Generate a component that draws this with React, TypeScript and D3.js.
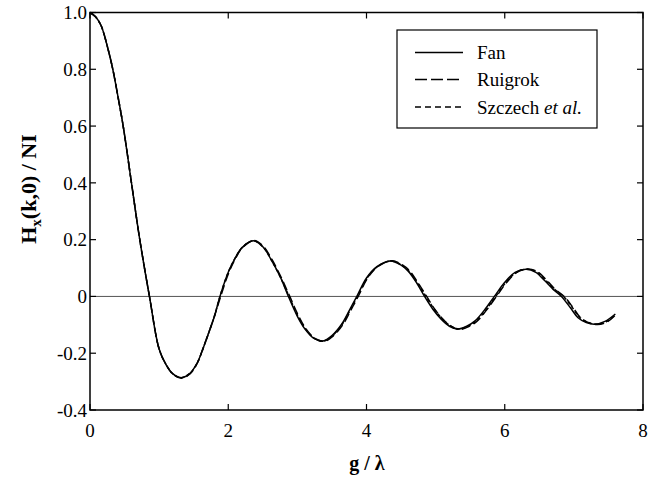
import React from "react";
import * as d3 from "d3";

// Fan (solid)
const fanG = [0, 0.08, 0.16, 0.26, 0.33, 0.4, 0.48, 0.6, 0.72, 0.86, 1.0, 1.1, 1.2, 1.32, 1.45, 1.55, 1.61, 1.7, 1.8, 1.88, 2.0, 2.1, 2.2, 2.36, 2.5, 2.62, 2.75, 2.87, 3.0, 3.11, 3.24, 3.37, 3.5, 3.64, 3.75, 3.86, 4.0, 4.15, 4.35, 4.5, 4.6, 4.72, 4.84, 4.96, 5.08, 5.2, 5.32, 5.45, 5.57, 5.7, 5.85, 6.0, 6.15, 6.31, 6.45, 6.58, 6.7, 6.82, 6.95, 7.06, 7.18, 7.3, 7.45, 7.6];
const fanV = [1.0, 0.985, 0.954, 0.872, 0.8, 0.71, 0.6, 0.4, 0.2, 0.0, -0.185, -0.24, -0.273, -0.286, -0.27, -0.235, -0.2, -0.14, -0.07, 0.0, 0.085, 0.135, 0.172, 0.196, 0.175, 0.13, 0.07, 0.0, -0.07, -0.115, -0.148, -0.157, -0.138, -0.098, -0.05, 0.0, 0.065, 0.105, 0.125, 0.11, 0.09, 0.05, 0.0, -0.045, -0.08, -0.105, -0.115, -0.105, -0.086, -0.05, 0.0, 0.05, 0.085, 0.096, 0.085, 0.055, 0.025, 0.0, -0.04, -0.075, -0.092, -0.098, -0.088, -0.062];
// Ruigrok (long dash)
const ruiG = [0, 0.08, 0.16, 0.26, 0.33, 0.4, 0.48, 0.6, 0.72, 0.86, 1.0, 1.1, 1.2, 1.32, 1.45, 1.55, 1.61, 1.7, 1.8, 1.89, 2.01, 2.11, 2.21, 2.37, 2.51, 2.63, 2.76, 2.89, 3.02, 3.13, 3.26, 3.39, 3.52, 3.66, 3.77, 3.88, 4.02, 4.17, 4.37, 4.52, 4.62, 4.74, 4.87, 4.99, 5.11, 5.23, 5.35, 5.48, 5.6, 5.73, 5.88, 6.03, 6.18, 6.34, 6.48, 6.61, 6.73, 6.86, 6.99, 7.1, 7.22, 7.34, 7.48, 7.6];
const ruiV = [1.0, 0.985, 0.954, 0.872, 0.8, 0.71, 0.6, 0.4, 0.2, 0.0, -0.185, -0.24, -0.274, -0.288, -0.272, -0.236, -0.2, -0.14, -0.07, 0.0, 0.085, 0.136, 0.173, 0.197, 0.176, 0.131, 0.07, 0.0, -0.07, -0.116, -0.149, -0.158, -0.139, -0.099, -0.05, 0.0, 0.066, 0.106, 0.126, 0.111, 0.091, 0.05, 0.0, -0.046, -0.081, -0.106, -0.116, -0.106, -0.087, -0.05, 0.0, 0.05, 0.086, 0.097, 0.086, 0.056, 0.025, 0.0, -0.04, -0.076, -0.093, -0.099, -0.09, -0.066];
// Szczech et al. (short dash)
const szcG = [0, 0.08, 0.16, 0.26, 0.33, 0.4, 0.48, 0.6, 0.72, 0.86, 1.0, 1.1, 1.2, 1.32, 1.45, 1.55, 1.61, 1.7, 1.8, 1.88, 2.0, 2.1, 2.2, 2.36, 2.5, 2.62, 2.75, 2.88, 3.01, 3.12, 3.25, 3.38, 3.51, 3.65, 3.76, 3.87, 4.01, 4.16, 4.36, 4.51, 4.61, 4.73, 4.86, 4.98, 5.1, 5.22, 5.34, 5.47, 5.59, 5.72, 5.87, 6.02, 6.17, 6.33, 6.47, 6.6, 6.72, 6.85, 6.98, 7.09, 7.21, 7.33, 7.47, 7.6];
const szcV = [1.0, 0.985, 0.954, 0.872, 0.8, 0.71, 0.6, 0.4, 0.2, 0.0, -0.185, -0.24, -0.273, -0.286, -0.27, -0.235, -0.2, -0.14, -0.07, 0.0, 0.085, 0.135, 0.172, 0.196, 0.175, 0.13, 0.07, 0.0, -0.07, -0.115, -0.148, -0.157, -0.138, -0.098, -0.05, 0.0, 0.065, 0.105, 0.125, 0.11, 0.09, 0.05, 0.0, -0.045, -0.08, -0.105, -0.115, -0.105, -0.086, -0.05, 0.0, 0.05, 0.085, 0.096, 0.085, 0.055, 0.025, 0.0, -0.04, -0.075, -0.092, -0.098, -0.089, -0.064];

const xTicks = [0, 2, 4, 6, 8];
const xTickLabels = ["0", "2", "4", "6", "8"];
const yTicks = [-0.4, -0.2, 0, 0.2, 0.4, 0.6, 0.8, 1.0];
const yTickLabels = ["-0.4", "-0.2", "0", "0.2", "0.4", "0.6", "0.8", "1.0"];

const seriesNames = ["Fan", "Ruigrok", "Szczech"];

const FONT = "'Liberation Serif', 'Times New Roman', 'DejaVu Serif', serif";

export default function App() {
  const W = 656, H = 480;
  const left = 90, right = 643, top = 12.5, bottom = 410;
  const x = d3.scaleLinear().domain([0, 8]).range([left, right]);
  const y = d3.scaleLinear().domain([-0.4, 1.0]).range([bottom, top]);
  const line = d3.line<[number, number]>().x(d => x(d[0])).y(d => y(d[1])).curve(d3.curveCatmullRom.alpha(0.5));
  const zip = (g: number[], v: number[]) => g.map((gi, i) => [gi, v[i]] as [number, number]);
  const series = [
    { name: seriesNames[0], d: line(zip(fanG, fanV)), dash: undefined as string | undefined },
    { name: seriesNames[1], d: line(zip(ruiG, ruiV)), dash: "9,4" },
    { name: seriesNames[2], d: line(zip(szcG, szcV)), dash: "3.5,2.5" },
  ];
  const ts: React.CSSProperties = { fontFamily: FONT };
  const tk = 6;
  const lx0 = 415, lx1 = 463, ltx = 477;
  const ly = [52.5, 79.5, 107];
  return (
    <svg width={W} height={H} style={{ position: "absolute", left: 0, top: 0, background: "#fff", fontFamily: FONT }}>
      <rect x={0} y={0} width={W} height={H} fill="#fff" />
      <line x1={left} x2={right} y1={y(0)} y2={y(0)} stroke="#555" strokeWidth={1} />
      {series.map(s => (
        <path key={s.name} d={s.d || ""} fill="none" stroke="#000" strokeWidth={1.5} strokeDasharray={s.dash} />
      ))}
      <rect x={left} y={top} width={right - left} height={bottom - top} fill="none" stroke="#000" strokeWidth={1.5} />
      {xTicks.map((t, i) => (
        <g key={"x" + i}>
          <line x1={x(t)} x2={x(t)} y1={bottom} y2={bottom - tk} stroke="#000" strokeWidth={1.2} />
          <line x1={x(t)} x2={x(t)} y1={top} y2={top + tk} stroke="#000" strokeWidth={1.2} />
          <text x={x(t)} y={437} fontSize={19} textAnchor="middle" fill="#000" style={ts}>{xTickLabels[i]}</text>
        </g>
      ))}
      {yTicks.map((t, i) => (
        <g key={"y" + i}>
          <line x1={left} x2={left + tk} y1={y(t)} y2={y(t)} stroke="#000" strokeWidth={1.2} />
          <line x1={right} x2={right - tk} y1={y(t)} y2={y(t)} stroke="#000" strokeWidth={1.2} />
          <text x={87} y={y(t)} dy="0.35em" fontSize={19} textAnchor="end" fill="#000" style={ts}>{yTickLabels[i]}</text>
        </g>
      ))}
      <text x={367} y={470} fontSize={20} fontWeight="bold" textAnchor="middle" fill="#000" style={ts}>g / λ</text>
      <text transform="translate(36,189) rotate(-90)" fontSize={22} fontWeight="bold" textAnchor="middle" fill="#000" style={ts}>
        H<tspan fontSize={15} dy={5}>x</tspan><tspan dy={-5}>(k,0) / NI</tspan>
      </text>
      <rect x={397} y={30} width={200} height={98} fill="#fff" stroke="#000" strokeWidth={1.2} />
      {series.map((s, i) => (
        <g key={"l" + i}>
          <line x1={lx0} x2={lx1} y1={ly[i]} y2={ly[i]} stroke="#000" strokeWidth={1.5} strokeDasharray={i === 1 ? "12,4" : i === 2 ? "6,4" : undefined} />
          <text x={ltx} y={ly[i]} dy="0.35em" fontSize={19} fill="#000" style={ts}>
            {i === 2 ? (<>{"Szczech "}<tspan fontStyle="italic">et al.</tspan></>) : s.name}
          </text>
        </g>
      ))}
    </svg>
  );
}
